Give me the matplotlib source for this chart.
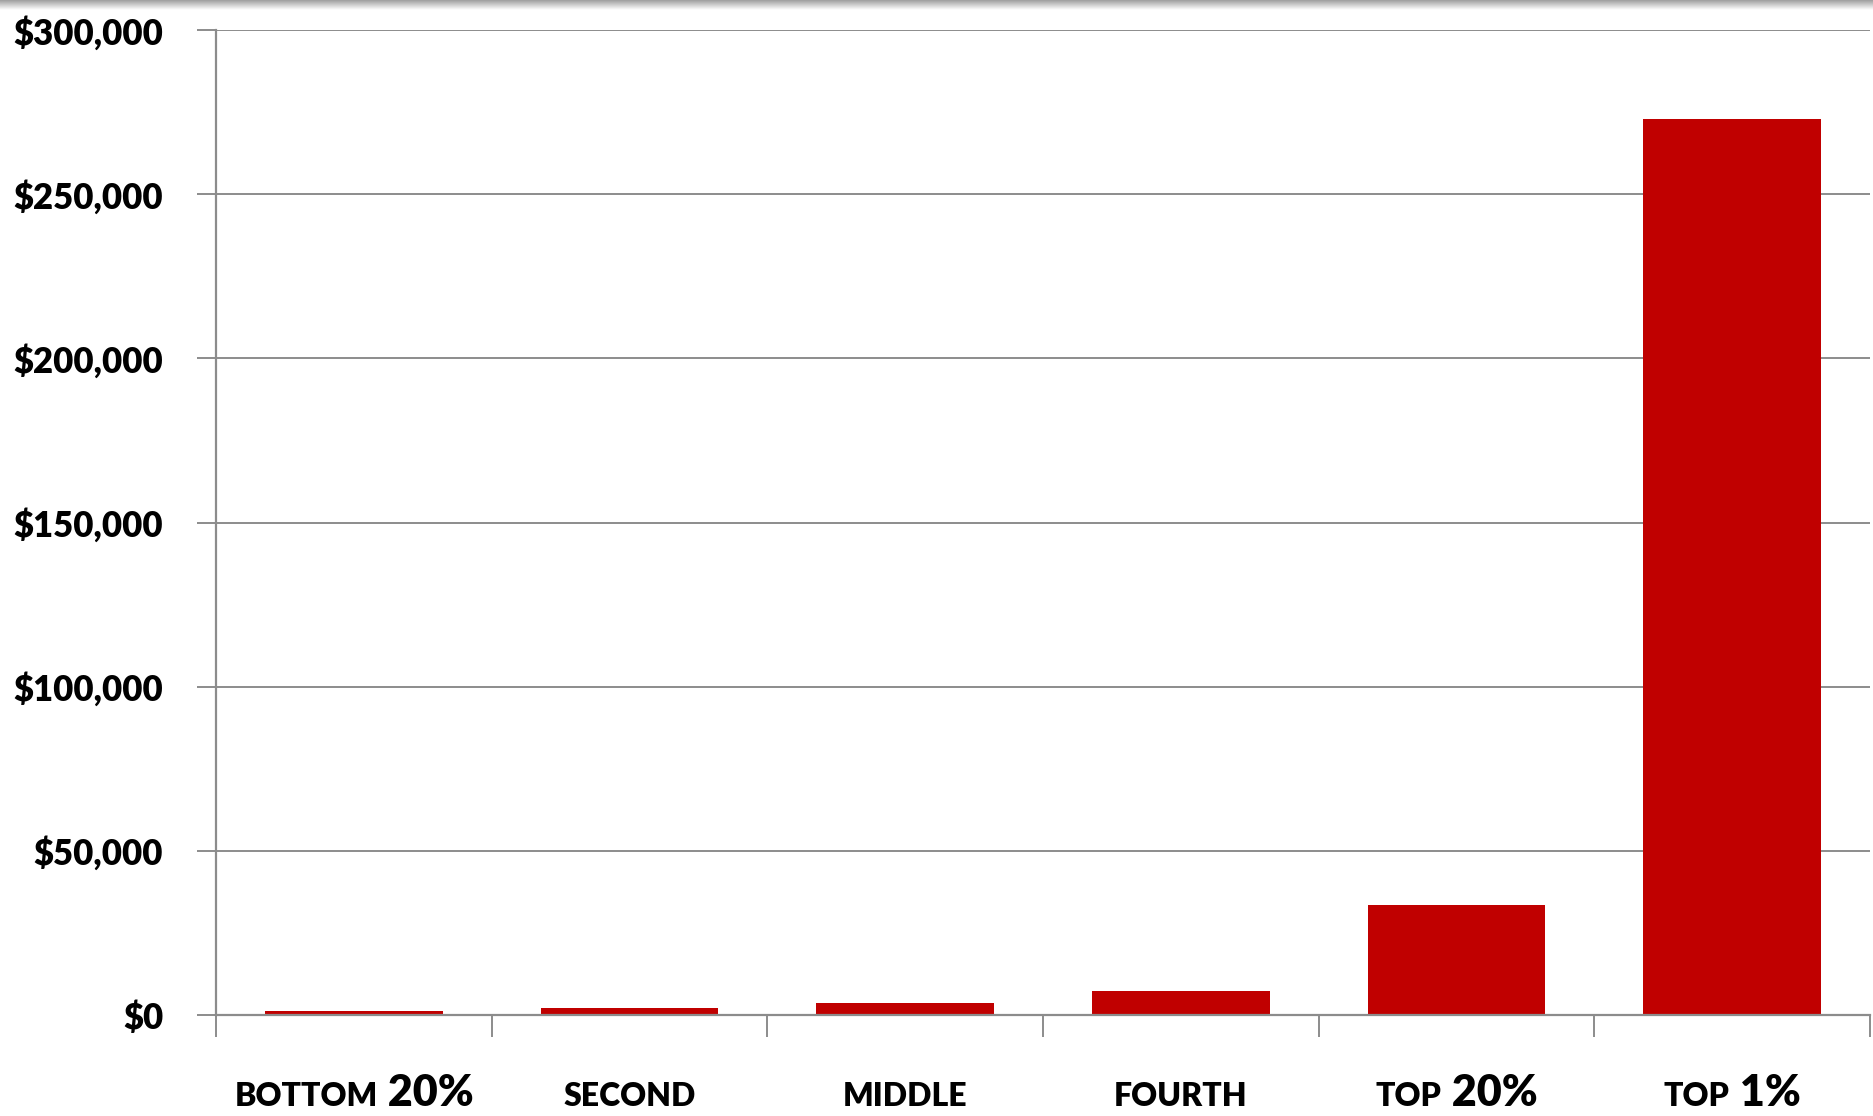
import numpy as np
import matplotlib
matplotlib.use("Agg")
import matplotlib.pyplot as plt
from matplotlib.ticker import FuncFormatter

# Data
groups = ["BOTTOM", "SECOND", "MIDDLE", "FOURTH", "TOP", "TOP"]
group_nums = ["20%", "", "", "", "20%", "1%"]
values = [1100, 2200, 3600, 7300, 33500, 273000]
y_ticks = [0, 50000, 100000, 150000, 200000, 250000, 300000]

BAR_COLOR = "#C00000"
GRID_COLOR = "#8c8c8c"
FONT = ["Lato", "DejaVu Sans"]
WEIGHT = "heavy"

W, H = 1874, 1116
fig = plt.figure(figsize=(W / 100, H / 100), dpi=100)

# Thin gray shadow band at the very top
band = fig.add_axes([0, 1 - 10 / H, 1, 10 / H])
grad = np.linspace(0.62, 1.0, 50).reshape(-1, 1)
band.imshow(np.repeat(grad, 2, axis=1), cmap="gray", vmin=0, vmax=1,
            aspect="auto", extent=[0, 1, 1, 0])
band.axis("off")

# Main plot area
left, right, top, bottom = 216, 1870, 30, 1015
ax = fig.add_axes([left / W, 1 - bottom / H, (right - left) / W, (bottom - top) / H])

x = np.arange(len(values))
ax.bar(x, values, width=0.645, color=BAR_COLOR, zorder=3)

ax.set_xlim(-0.5, len(values) - 0.5)
ax.set_ylim(0, 300000)
ax.set_yticks(y_ticks)
ax.yaxis.set_major_formatter(FuncFormatter(lambda v, p: f"${v:,.0f}"))
ax.grid(axis="y", color=GRID_COLOR, linewidth=1.4, zorder=0)

for s in ["top", "right"]:
    ax.spines[s].set_visible(False)
for s in ["left", "bottom"]:
    ax.spines[s].set_color(GRID_COLOR)
    ax.spines[s].set_linewidth(1.6)
    ax.spines[s].set_zorder(4)

ax.tick_params(axis="y", length=14, width=1.4, color=GRID_COLOR, pad=24,
               labelsize=25)
for lab in ax.get_yticklabels():
    lab.set_fontfamily(FONT)
    lab.set_fontweight(WEIGHT)

# Tick marks between categories, labels drawn separately
ax.set_xticks(np.arange(-0.5, len(values), 1.0))
ax.set_xticklabels([])
ax.tick_params(axis="x", length=16, width=1.4, color=GRID_COLOR)

# Category labels with a small word and a larger number
fig.canvas.draw()
renderer = fig.canvas.get_renderer()
base_y = (H - 1106) / H
for i, (word, num) in enumerate(zip(groups, group_nums)):
    cx = ax.transData.transform((i, 0))[0]
    parts = [(word, 23)]
    if num:
        parts.append((" " + num, 31))
    texts = []
    widths = []
    for s, size in parts:
        t = fig.text(0, base_y, s, fontsize=size, fontweight=WEIGHT,
                     fontfamily=FONT, va="baseline", ha="left")
        texts.append(t)
        widths.append(t.get_window_extent(renderer).width)
    xpos = cx - sum(widths) / 2
    for t, w in zip(texts, widths):
        t.set_x(xpos / W)
        xpos += w

fig.savefig("out.png", dpi=100, facecolor="white")
